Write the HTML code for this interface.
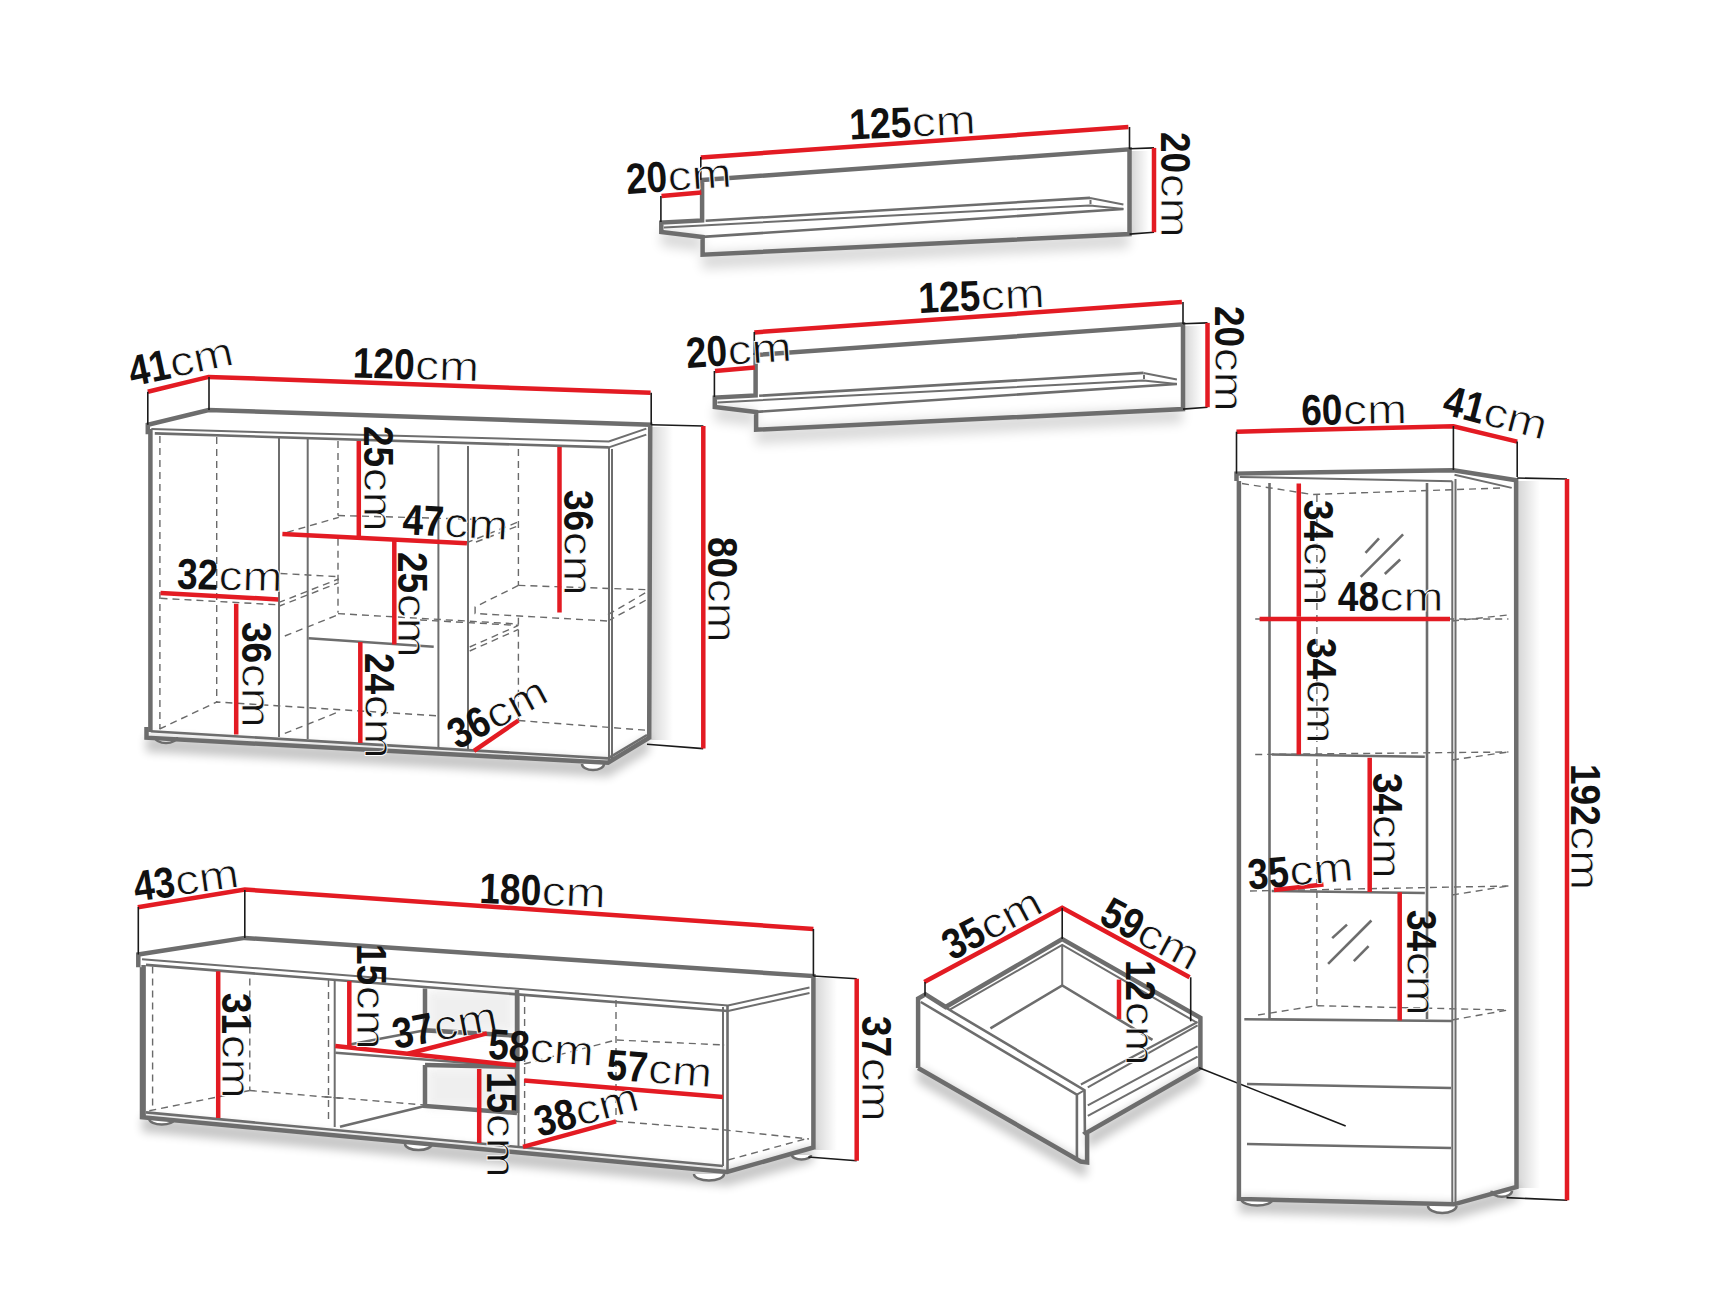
<!DOCTYPE html><html><head><meta charset="utf-8"><style>
html,body{margin:0;padding:0;background:#fff;width:1726px;height:1295px;overflow:hidden}
svg{display:block}
.g{fill:none;stroke:#6d6d6d;stroke-width:4.5;stroke-linejoin:miter}
.g3{fill:none;stroke:#6d6d6d;stroke-width:2.6}
.r{fill:none;stroke:#e31b23;stroke-width:4.5}
.k{fill:none;stroke:#1a1a1a;stroke-width:1.6}
.t{fill:none;stroke:#6e6e6e;stroke-width:2}
.t2{fill:#fff;stroke:#6d6d6d;stroke-width:2.5}
.d{fill:none;stroke:#6a6a6a;stroke-width:1.4;stroke-dasharray:7 5}
text{font-family:"Liberation Sans",sans-serif;fill:#111}
.n{font-weight:bold;font-size:43px}
.c{font-weight:normal;font-size:41.5px;stroke:#fff;stroke-width:0.8px}
</style></head><body>
<svg width="1726" height="1295" viewBox="0 0 1726 1295">
<defs>
<filter id="b3" x="-50%" y="-50%" width="200%" height="200%"><feGaussianBlur stdDeviation="3"/></filter>
<filter id="b4" x="-50%" y="-50%" width="200%" height="200%"><feGaussianBlur stdDeviation="4"/></filter>
<filter id="b5" x="-50%" y="-50%" width="200%" height="200%"><feGaussianBlur stdDeviation="5"/></filter>
<filter id="b6" x="-50%" y="-50%" width="200%" height="200%"><feGaussianBlur stdDeviation="6"/></filter>
<linearGradient id="sg" x1="0" x2="1" y1="0" y2="0"><stop offset="0" stop-color="#000" stop-opacity="0.16"/><stop offset="1" stop-color="#000" stop-opacity="0"/></linearGradient>
</defs>
<rect width="1726" height="1295" fill="#fff"/>
<polygon points="661.0,230.0 702.0,235.0 702.0,253.0 1129.0,232.0 1129.0,248.0 702.0,269.0 702.0,251.0 661.0,246.0" fill="#000" opacity="0.15" filter="url(#b6)"/>
<rect x="1131.0" y="151.0" width="18" height="82.0" fill="url(#sg)" opacity="1.00"/>
<polygon points="714.5,405.0 755.5,410.0 755.5,428.0 1182.5,407.0 1182.5,423.0 755.5,444.0 755.5,426.0 714.5,421.0" fill="#000" opacity="0.15" filter="url(#b6)"/>
<rect x="1184.5" y="326.0" width="18" height="82.0" fill="url(#sg)" opacity="1.00"/>
<polygon points="146.0,736.0 608.0,761.0 649.0,736.0 649.0,752.0 608.0,777.0 146.0,752.0" fill="#000" opacity="0.22" filter="url(#b5)"/>
<rect x="651.0" y="427.0" width="22" height="313.0" fill="url(#sg)" opacity="1.00"/>
<polygon points="142.0,1116.0 727.0,1170.0 813.0,1146.0 813.0,1162.0 727.0,1186.0 142.0,1132.0" fill="#000" opacity="0.22" filter="url(#b5)"/>
<rect x="815.0" y="978.0" width="22" height="172.0" fill="url(#sg)" opacity="1.00"/>
<polygon points="917.0,1066.0 1081.0,1160.0 1087.0,1160.0 1087.0,1133.0 1200.0,1066.0 1200.0,1082.0 1087.0,1149.0 1087.0,1176.0 1081.0,1176.0 917.0,1082.0" fill="#000" opacity="0.22" filter="url(#b5)"/>
<polygon points="1239.0,1197.0 1454.0,1203.0 1518.0,1185.0 1518.0,1201.0 1454.0,1219.0 1239.0,1213.0" fill="#000" opacity="0.22" filter="url(#b5)"/>
<rect x="1518.0" y="481.0" width="22" height="707.0" fill="url(#sg)" opacity="1.00"/>
<g transform="translate(0,0)">
<polyline class="g3" points="705.6,220.8 1090.0,197.9"/>
<polyline class="t" points="1090.0,197.9 1123.4,204.4"/>
<polyline class="t" points="1090.5,199.8 1090.5,204.0"/>
<polyline class="t" points="663.9,227.4 1090.0,205.4 1123.4,209.0"/>
<polyline class="g3" points="702.6,236.9 1123.4,209.0"/>
<polygon class="g" points="702.1,180.0 1129.5,149.3 1129.5,234.1 702.6,254.7 702.6,236.9 661.3,232.1 661.3,222.6 702.1,220.4"/>
<polyline class="r" points="700.8,157.4 1128.4,127.1"/>
<polyline class="r" points="661.5,196.1 701.3,192.6"/>
<polyline class="k" points="660.9,196.0 660.9,222.0"/>
<polyline class="k" points="700.8,157.0 700.8,180.0"/>
<polyline class="k" points="1129.5,127.0 1129.5,149.0"/>
<polyline class="k" points="1129.5,148.8 1154.0,147.9"/>
<polyline class="k" points="1129.5,234.1 1154.0,232.2"/>
<polyline class="r" points="1154.0,147.9 1154.0,232.2"/>
</g>
<g transform="translate(53.5,175)">
<polyline class="g3" points="705.6,220.8 1090.0,197.9"/>
<polyline class="t" points="1090.0,197.9 1123.4,204.4"/>
<polyline class="t" points="1090.5,199.8 1090.5,204.0"/>
<polyline class="t" points="663.9,227.4 1090.0,205.4 1123.4,209.0"/>
<polyline class="g3" points="702.6,236.9 1123.4,209.0"/>
<polygon class="g" points="702.1,180.0 1129.5,149.3 1129.5,234.1 702.6,254.7 702.6,236.9 661.3,232.1 661.3,222.6 702.1,220.4"/>
<polyline class="r" points="700.8,157.4 1128.4,127.1"/>
<polyline class="r" points="661.5,196.1 701.3,192.6"/>
<polyline class="k" points="660.9,196.0 660.9,222.0"/>
<polyline class="k" points="700.8,157.0 700.8,180.0"/>
<polyline class="k" points="1129.5,127.0 1129.5,149.0"/>
<polyline class="k" points="1129.5,148.8 1154.0,147.9"/>
<polyline class="k" points="1129.5,234.1 1154.0,232.2"/>
<polyline class="r" points="1154.0,147.9 1154.0,232.2"/>
</g>
<g transform="translate(627.0,194.0) rotate(-4.00)"><text class="n" x="0" y="0" textLength="41.2" lengthAdjust="spacingAndGlyphs">20</text><text class="c" x="41.7" y="0" textLength="64.0" lengthAdjust="spacingAndGlyphs">cm</text></g>
<g transform="translate(850.0,139.5) rotate(-2.60)"><text class="n" x="0" y="0" textLength="61.8" lengthAdjust="spacingAndGlyphs">125</text><text class="c" x="62.3" y="0" textLength="64.0" lengthAdjust="spacingAndGlyphs">cm</text></g>
<g transform="translate(1161.0,132.0) rotate(90.00)"><text class="n" x="0" y="0" textLength="41.2" lengthAdjust="spacingAndGlyphs">20</text><text class="c" x="41.7" y="0" textLength="64.0" lengthAdjust="spacingAndGlyphs">cm</text></g>
<g transform="translate(687.0,368.0) rotate(-4.00)"><text class="n" x="0" y="0" textLength="41.2" lengthAdjust="spacingAndGlyphs">20</text><text class="c" x="41.7" y="0" textLength="64.0" lengthAdjust="spacingAndGlyphs">cm</text></g>
<g transform="translate(919.0,313.0) rotate(-2.60)"><text class="n" x="0" y="0" textLength="61.8" lengthAdjust="spacingAndGlyphs">125</text><text class="c" x="62.3" y="0" textLength="64.0" lengthAdjust="spacingAndGlyphs">cm</text></g>
<g transform="translate(1214.5,306.0) rotate(90.00)"><text class="n" x="0" y="0" textLength="41.2" lengthAdjust="spacingAndGlyphs">20</text><text class="c" x="41.7" y="0" textLength="64.0" lengthAdjust="spacingAndGlyphs">cm</text></g>
<polyline class="d" points="159.9,436.0 159.9,729.0"/>
<polyline class="d" points="216.7,437.0 216.7,702.0"/>
<polyline class="d" points="159.5,729.0 216.7,702.0 440.0,716.0"/>
<polyline class="d" points="160.5,598.3 278.3,604.8"/>
<polyline class="d" points="280.5,573.5 338.8,576.7"/>
<polyline class="d" points="278.3,602.7 338.8,578.9"/>
<polyline class="d" points="278.3,606.5 338.8,582.7"/>
<polyline class="d" points="284.8,636.0 338.8,614.5"/>
<polyline class="d" points="287.0,532.4 338.8,517.3"/>
<polyline class="d" points="338.0,441.0 338.0,515.5"/>
<polyline class="d" points="338.0,538.7 338.0,612.8"/>
<polyline class="d" points="338.0,515.5 480.0,519.4"/>
<polyline class="d" points="338.0,613.6 518.0,624.0"/>
<polyline class="d" points="284.8,733.4 338.8,711.8"/>
<polyline class="d" points="518.4,449.0 518.4,585.4"/>
<polyline class="d" points="518.4,617.8 518.4,720.5"/>
<polyline class="d" points="518.4,585.4 647.0,589.7"/>
<polyline class="d" points="518.4,585.4 475.1,607.0 475.1,613.5 608.0,621.0"/>
<polyline class="d" points="608.0,614.6 647.0,591.9"/>
<polyline class="d" points="608.0,621.0 647.0,599.5"/>
<polyline class="d" points="420.0,620.0 518.4,625.4"/>
<polyline class="d" points="469.7,647.0 518.4,625.4"/>
<polyline class="d" points="469.7,651.0 518.4,629.4"/>
<polyline class="d" points="466.0,543.0 518.0,522.0"/>
<polyline class="d" points="476.0,542.0 518.0,526.0"/>
<polyline class="d" points="518.4,720.5 647.0,730.3"/>
<polyline class="t" points="279.0,437.0 279.0,737.0"/>
<polyline class="t" points="307.7,438.0 307.7,739.0"/>
<polyline class="t" points="438.4,445.0 438.4,748.0"/>
<polyline class="t" points="468.0,446.0 468.0,750.0"/>
<polyline class="t" points="609.0,447.0 609.0,761.0"/>
<polyline class="t" points="612.0,449.0 612.0,759.0"/>
<polyline class="t" points="151.3,429.1 608.8,441.5 646.3,428.6"/>
<polyline class="g3" points="154.8,433.4 608.8,447.4"/>
<polyline class="t" points="608.8,447.4 646.3,434.6"/>
<polyline class="g3" points="150.8,731.3 608.0,758.4 647.0,735.0"/>
<polyline class="g3" points="308.6,638.3 433.7,646.8"/>
<path class="t2" d="M155.0,737.0 A11.0,6.0 0 0 0 177.0,737.0"/>
<path class="t2" d="M582.0,764.0 A11.0,6.0 0 0 0 604.0,764.0"/>
<polyline class="g" points="147.8,434.3 147.8,424.7 208.6,410.0 650.2,424.7 649.2,737.8 608.0,762.7 146.5,737.7 146.5,726.9"/>
<polyline class="g" points="150.4,429.0 150.4,732.0"/>
<polyline class="r" points="147.8,391.7 208.6,376.9 650.6,392.8"/>
<polyline class="k" points="147.8,391.7 147.8,424.7"/>
<polyline class="k" points="209.0,377.0 209.0,410.0"/>
<polyline class="k" points="651.2,392.8 651.2,424.7"/>
<polyline class="k" points="651.2,424.7 703.4,426.0"/>
<polyline class="k" points="647.0,744.3 703.2,748.6"/>
<polyline class="r" points="703.3,426.0 703.3,748.6"/>
<polyline class="r" points="160.5,593.0 278.3,599.4"/>
<polyline class="r" points="236.2,603.7 236.2,734.5"/>
<polyline class="r" points="282.4,534.0 466.9,543.3"/>
<polyline class="r" points="358.8,441.0 358.8,537.0"/>
<polyline class="r" points="394.3,539.4 394.3,644.5"/>
<polyline class="r" points="360.3,642.0 360.3,743.0"/>
<polyline class="r" points="559.5,447.0 559.5,612.4"/>
<polyline class="r" points="474.0,750.8 518.4,720.5"/>
<g transform="translate(132.0,386.5) rotate(-12.00)"><text class="n" x="0" y="0" textLength="41.2" lengthAdjust="spacingAndGlyphs">41</text><text class="c" x="41.7" y="0" textLength="64.0" lengthAdjust="spacingAndGlyphs">cm</text></g>
<g transform="translate(352.5,377.5) rotate(1.60)"><text class="n" x="0" y="0" textLength="61.8" lengthAdjust="spacingAndGlyphs">120</text><text class="c" x="62.3" y="0" textLength="64.0" lengthAdjust="spacingAndGlyphs">cm</text></g>
<g transform="translate(364.0,426.0) rotate(90.00)"><text class="n" x="0" y="0" textLength="41.2" lengthAdjust="spacingAndGlyphs">25</text><text class="c" x="41.7" y="0" textLength="64.0" lengthAdjust="spacingAndGlyphs">cm</text></g>
<g transform="translate(402.0,534.0) rotate(3.30)"><text class="n" x="0" y="0" textLength="41.2" lengthAdjust="spacingAndGlyphs">47</text><text class="c" x="41.7" y="0" textLength="64.0" lengthAdjust="spacingAndGlyphs">cm</text></g>
<g transform="translate(563.5,490.0) rotate(90.00)"><text class="n" x="0" y="0" textLength="41.2" lengthAdjust="spacingAndGlyphs">36</text><text class="c" x="41.7" y="0" textLength="64.0" lengthAdjust="spacingAndGlyphs">cm</text></g>
<g transform="translate(176.7,588.6) rotate(1.50)"><text class="n" x="0" y="0" textLength="41.2" lengthAdjust="spacingAndGlyphs">32</text><text class="c" x="41.7" y="0" textLength="64.0" lengthAdjust="spacingAndGlyphs">cm</text></g>
<g transform="translate(398.3,552.0) rotate(90.00)"><text class="n" x="0" y="0" textLength="41.2" lengthAdjust="spacingAndGlyphs">25</text><text class="c" x="41.7" y="0" textLength="64.0" lengthAdjust="spacingAndGlyphs">cm</text></g>
<g transform="translate(241.6,622.0) rotate(90.00)"><text class="n" x="0" y="0" textLength="41.2" lengthAdjust="spacingAndGlyphs">36</text><text class="c" x="41.7" y="0" textLength="64.0" lengthAdjust="spacingAndGlyphs">cm</text></g>
<g transform="translate(365.0,653.0) rotate(90.00)"><text class="n" x="0" y="0" textLength="41.2" lengthAdjust="spacingAndGlyphs">24</text><text class="c" x="41.7" y="0" textLength="64.0" lengthAdjust="spacingAndGlyphs">cm</text></g>
<g transform="translate(457.5,750.0) rotate(-28.00)"><text class="n" x="0" y="0" textLength="41.2" lengthAdjust="spacingAndGlyphs">36</text><text class="c" x="41.7" y="0" textLength="64.0" lengthAdjust="spacingAndGlyphs">cm</text></g>
<g transform="translate(708.0,537.0) rotate(90.00)"><text class="n" x="0" y="0" textLength="41.2" lengthAdjust="spacingAndGlyphs">80</text><text class="c" x="41.7" y="0" textLength="64.0" lengthAdjust="spacingAndGlyphs">cm</text></g>
<rect x="427" y="990" width="88" height="42" fill="#ececec" filter="url(#b4)" opacity="0.8"/>
<rect x="427" y="1068" width="88" height="40" fill="#ececec" filter="url(#b4)" opacity="0.8"/>
<polyline class="d" points="152.6,966.5 152.6,1110.0"/>
<polyline class="d" points="249.8,978.6 249.8,1090.5"/>
<polyline class="d" points="328.5,980.0 328.5,1120.6"/>
<polyline class="d" points="149.3,1110.8 249.8,1090.5"/>
<polyline class="d" points="249.8,1090.5 345.0,1098.6"/>
<polyline class="d" points="324.6,1096.7 425.0,1105.0"/>
<polyline class="d" points="524.6,995.0 524.6,1148.0"/>
<polyline class="d" points="616.0,1000.0 616.0,1121.3"/>
<polyline class="d" points="524.0,1064.0 616.0,1040.0 725.0,1045.0"/>
<polyline class="d" points="616.0,1121.3 725.0,1130.0 809.0,1139.0"/>
<polyline class="t" points="334.7,980.0 334.7,1127.0"/>
<polyline class="t" points="518.5,995.0 518.5,1147.0"/>
<polyline class="t" points="142.0,959.2 728.0,1005.4 809.5,987.6"/>
<polyline class="g3" points="146.0,964.9 728.0,1011.0"/>
<polyline class="t" points="728.0,1011.0 809.5,993.0"/>
<polyline class="g3" points="146.0,1112.4 723.0,1166.0"/>
<polyline class="d" points="728.0,1160.0 809.0,1138.0"/>
<polyline class="g3" points="727.5,1005.0 727.5,1172.0"/>
<polyline class="t" points="723.0,1007.0 723.0,1166.0"/>
<polyline class="g3" points="335.4,1052.7 517.7,1066.6"/>
<polyline class="g3" points="350.9,1044.2 425.0,1030.3"/>
<polyline class="g3" points="340.0,1126.8 425.0,1106.0"/>
<polyline class="g" points="425.0,988.6 425.0,1030.3 517.0,1035.7"/>
<polyline class="g" points="517.0,990.0 517.0,1113.0"/>
<polyline class="g" points="425.0,1065.0 425.0,1106.0 517.0,1113.0"/>
<polyline class="g" points="425.0,1065.0 517.0,1067.0"/>
<path class="t2" d="M149.3,1118.9 A12.5,5.6 0 0 0 174.4,1118.9"/>
<path class="t2" d="M405.0,1144.0 A13.5,6.0 0 0 0 432.0,1144.0"/>
<path class="t2" d="M694.0,1174.0 A15.0,6.5 0 0 0 724.0,1174.0"/>
<path class="t2" d="M792.0,1155.0 A9.5,4.5 0 0 0 811.0,1155.0"/>
<polyline class="g" points="138.3,967.3 138.3,954.5 244.8,937.9 813.4,976.1 813.4,1147.5 727.0,1172.0 142.0,1117.3 142.0,967.3"/>
<polyline class="g" points="143.6,965.0 143.6,1116.4"/>
<polyline class="r" points="137.8,907.3 244.8,889.5 813.4,929.0"/>
<polyline class="k" points="138.3,907.0 138.3,954.5"/>
<polyline class="k" points="244.8,890.0 244.8,938.0"/>
<polyline class="k" points="813.4,929.0 813.4,976.0"/>
<polyline class="k" points="813.4,976.0 856.7,978.7"/>
<polyline class="k" points="808.3,1157.0 856.7,1160.8"/>
<polyline class="r" points="856.7,978.7 856.7,1160.8"/>
<polyline class="r" points="218.2,971.3 218.2,1118.0"/>
<polyline class="r" points="349.3,981.0 349.3,1046.0"/>
<polyline class="r" points="335.3,1046.0 516.0,1065.3"/>
<polyline class="r" points="407.9,1053.8 486.9,1033.4"/>
<polyline class="r" points="479.2,1069.0 479.2,1143.0"/>
<polyline class="r" points="524.2,1080.6 723.0,1097.0"/>
<polyline class="r" points="523.0,1146.8 616.0,1121.3"/>
<g transform="translate(135.8,901.5) rotate(-8.00)"><text class="n" x="0" y="0" textLength="41.2" lengthAdjust="spacingAndGlyphs">43</text><text class="c" x="41.7" y="0" textLength="64.0" lengthAdjust="spacingAndGlyphs">cm</text></g>
<g transform="translate(479.0,903.0) rotate(2.00)"><text class="n" x="0" y="0" textLength="61.8" lengthAdjust="spacingAndGlyphs">180</text><text class="c" x="62.3" y="0" textLength="64.0" lengthAdjust="spacingAndGlyphs">cm</text></g>
<g transform="translate(357.0,944.0) rotate(90.00)"><text class="n" x="0" y="0" textLength="41.2" lengthAdjust="spacingAndGlyphs">15</text><text class="c" x="41.7" y="0" textLength="64.0" lengthAdjust="spacingAndGlyphs">cm</text></g>
<g transform="translate(222.0,993.0) rotate(90.00)"><text class="n" x="0" y="0" textLength="41.2" lengthAdjust="spacingAndGlyphs">31</text><text class="c" x="41.7" y="0" textLength="64.0" lengthAdjust="spacingAndGlyphs">cm</text></g>
<g transform="translate(395.5,1049.0) rotate(-10.80)"><text class="n" x="0" y="0" textLength="41.2" lengthAdjust="spacingAndGlyphs">37</text><text class="c" x="41.7" y="0" textLength="64.0" lengthAdjust="spacingAndGlyphs">cm</text></g>
<g transform="translate(487.5,1058.5) rotate(4.00)"><text class="n" x="0" y="0" textLength="41.2" lengthAdjust="spacingAndGlyphs">58</text><text class="c" x="41.7" y="0" textLength="64.0" lengthAdjust="spacingAndGlyphs">cm</text></g>
<g transform="translate(605.7,1079.3) rotate(4.30)"><text class="n" x="0" y="0" textLength="41.2" lengthAdjust="spacingAndGlyphs">57</text><text class="c" x="41.7" y="0" textLength="64.0" lengthAdjust="spacingAndGlyphs">cm</text></g>
<g transform="translate(487.0,1072.0) rotate(90.00)"><text class="n" x="0" y="0" textLength="41.2" lengthAdjust="spacingAndGlyphs">15</text><text class="c" x="41.7" y="0" textLength="64.0" lengthAdjust="spacingAndGlyphs">cm</text></g>
<g transform="translate(539.0,1137.0) rotate(-15.00)"><text class="n" x="0" y="0" textLength="41.2" lengthAdjust="spacingAndGlyphs">38</text><text class="c" x="41.7" y="0" textLength="64.0" lengthAdjust="spacingAndGlyphs">cm</text></g>
<g transform="translate(862.0,1016.0) rotate(90.00)"><text class="n" x="0" y="0" textLength="41.2" lengthAdjust="spacingAndGlyphs">37</text><text class="c" x="41.7" y="0" textLength="64.0" lengthAdjust="spacingAndGlyphs">cm</text></g>
<polyline class="g3" points="990.4,1028.3 1062.2,985.4 1152.5,1039.9"/>
<polyline class="t" points="1062.2,945.0 1062.2,985.4"/>
<polyline class="t" points="949.8,1009.7 1062.2,944.9 1196.6,1022.5"/>
<polyline class="t" points="1080.9,1084.5 1197.6,1022.0"/>
<polyline class="t" points="1087.8,1087.3 1197.6,1025.4"/>
<polyline class="t" points="1087.8,1105.4 1197.6,1046.3"/>
<polyline class="t" points="1087.8,1115.8 1197.6,1056.7"/>
<polyline class="g3" points="945.6,1007.5 1084.5,1090.2 1084.9,1134.0"/>
<polyline class="g3" points="920.8,1002.0 1076.9,1094.7 1076.9,1160.0"/>
<polyline class="t" points="1076.9,1094.7 1084.0,1090.5"/>
<polyline class="g" points="918.1,1068.0 918.1,998.5 925.5,994.3 945.6,1007.0 1062.2,939.1 1200.4,1017.8 1200.4,1067.8 1085.7,1133.2 1087.1,1134.6 1087.1,1162.4 1080.7,1161.5 918.1,1068.0"/>
<polyline class="k" points="1199.0,1067.8 1345.7,1126.0"/>
<polyline class="r" points="924.3,982.0 1062.2,907.8 1189.6,977.3"/>
<polyline class="k" points="925.0,982.0 925.0,995.8"/>
<polyline class="k" points="1062.2,907.8 1062.2,939.0"/>
<polyline class="k" points="1190.7,977.3 1190.7,1021.3"/>
<polyline class="r" points="1119.0,979.6 1119.0,1019.0"/>
<g transform="translate(952.0,961.0) rotate(-28.00)"><text class="n" x="0" y="0" textLength="41.2" lengthAdjust="spacingAndGlyphs">35</text><text class="c" x="41.7" y="0" textLength="64.0" lengthAdjust="spacingAndGlyphs">cm</text></g>
<g transform="translate(1097.5,922.0) rotate(28.00)"><text class="n" x="0" y="0" textLength="41.2" lengthAdjust="spacingAndGlyphs">59</text><text class="c" x="41.7" y="0" textLength="64.0" lengthAdjust="spacingAndGlyphs">cm</text></g>
<g transform="translate(1126.0,960.0) rotate(90.00)"><text class="n" x="0" y="0" textLength="41.2" lengthAdjust="spacingAndGlyphs">12</text><text class="c" x="41.7" y="0" textLength="64.0" lengthAdjust="spacingAndGlyphs">cm</text></g>
<polyline class="d" points="1242.0,483.5 1312.5,494.5 1504.0,487.9"/>
<polyline class="d" points="1316.9,495.0 1316.9,1005.7"/>
<polyline class="d" points="1255.2,619.0 1508.4,619.0"/>
<polyline class="d" points="1452.0,621.0 1508.0,615.0"/>
<polyline class="d" points="1255.2,754.5 1508.4,752.0"/>
<polyline class="d" points="1452.0,760.0 1508.0,752.0"/>
<polyline class="d" points="1250.0,891.0 1508.4,886.0"/>
<polyline class="d" points="1452.0,895.0 1508.0,886.0"/>
<polyline class="d" points="1258.0,1015.0 1316.9,1005.7 1508.0,1010.0"/>
<polyline class="d" points="1452.0,1020.0 1508.0,1010.0"/>
<polyline class="g3" points="1269.5,483.0 1269.5,1019.0"/>
<polyline class="g3" points="1427.0,483.0 1427.0,1019.0"/>
<polyline class="t" points="1452.3,481.3 1452.3,1204.0"/>
<polyline class="t" points="1455.5,479.0 1455.5,1202.0"/>
<polyline class="t" points="1239.8,476.9 1452.3,481.3"/>
<polyline class="t" points="1454.5,474.7 1511.7,487.9"/>
<polyline class="g3" points="1271.7,754.5 1424.8,756.7"/>
<polyline class="g3" points="1271.7,891.0 1424.8,893.0"/>
<polyline class="g3" points="1244.3,1019.2 1452.4,1021.0"/>
<polyline class="g3" points="1247.0,1084.0 1451.0,1088.0"/>
<polyline class="g3" points="1247.0,1144.0 1451.0,1148.0"/>
<polyline class="g3" points="1365.5,552.8 1379.0,538.3"/>
<polyline class="g3" points="1360.7,576.9 1403.1,534.4"/>
<polyline class="g3" points="1384.8,574.0 1400.2,559.5"/>
<polyline class="g3" points="1332.2,938.1 1347.0,924.6"/>
<polyline class="g3" points="1328.1,963.8 1371.4,920.5"/>
<polyline class="g3" points="1353.8,961.1 1368.6,946.2"/>
<path class="t2" d="M1241.6,1200.0 A15.6,6.0 0 0 0 1272.7,1200.0"/>
<path class="t2" d="M1428.0,1206.0 A14.2,7.0 0 0 0 1456.5,1206.0"/>
<path class="t2" d="M1491.6,1190.8 A10.2,6.0 0 0 0 1512.0,1190.8"/>
<polyline class="g" points="1236.5,481.0 1236.5,473.6 1453.4,470.3 1516.1,480.2 1516.5,1187.0 1453.8,1204.3 1238.9,1198.9 1238.9,481.0"/>
<polyline class="r" points="1236.5,431.7 1453.4,426.2 1517.2,441.6"/>
<polyline class="k" points="1236.5,431.7 1236.5,473.6"/>
<polyline class="k" points="1453.4,426.0 1453.4,470.0"/>
<polyline class="k" points="1517.2,441.6 1517.2,477.0"/>
<polyline class="k" points="1517.2,478.0 1567.0,479.0"/>
<polyline class="k" points="1506.5,1197.6 1567.3,1200.3"/>
<polyline class="r" points="1567.0,479.0 1567.0,1200.3"/>
<polyline class="r" points="1298.8,483.5 1298.8,616.7"/>
<polyline class="r" points="1298.8,621.0 1298.8,754.5"/>
<polyline class="r" points="1369.7,757.8 1369.7,892.1"/>
<polyline class="r" points="1399.7,892.2 1399.7,1020.5"/>
<polyline class="r" points="1274.0,889.9 1323.5,884.4"/>
<polyline class="r" points="1259.6,618.9 1450.0,618.9"/>
<g transform="translate(1301.5,425.1) rotate(-1.00)"><text class="n" x="0" y="0" textLength="41.2" lengthAdjust="spacingAndGlyphs">60</text><text class="c" x="41.7" y="0" textLength="64.0" lengthAdjust="spacingAndGlyphs">cm</text></g>
<g transform="translate(1441.0,413.5) rotate(14.50)"><text class="n" x="0" y="0" textLength="41.2" lengthAdjust="spacingAndGlyphs">41</text><text class="c" x="41.7" y="0" textLength="64.0" lengthAdjust="spacingAndGlyphs">cm</text></g>
<g transform="translate(1304.0,500.0) rotate(90.00)"><text class="n" x="0" y="0" textLength="41.2" lengthAdjust="spacingAndGlyphs">34</text><text class="c" x="41.7" y="0" textLength="64.0" lengthAdjust="spacingAndGlyphs">cm</text></g>
<g transform="translate(1337.8,611.2) rotate(0.00)"><text class="n" x="0" y="0" textLength="41.2" lengthAdjust="spacingAndGlyphs">48</text><text class="c" x="41.7" y="0" textLength="64.0" lengthAdjust="spacingAndGlyphs">cm</text></g>
<g transform="translate(1307.0,638.0) rotate(90.00)"><text class="n" x="0" y="0" textLength="41.2" lengthAdjust="spacingAndGlyphs">34</text><text class="c" x="41.7" y="0" textLength="64.0" lengthAdjust="spacingAndGlyphs">cm</text></g>
<g transform="translate(1373.0,773.0) rotate(90.00)"><text class="n" x="0" y="0" textLength="41.2" lengthAdjust="spacingAndGlyphs">34</text><text class="c" x="41.7" y="0" textLength="64.0" lengthAdjust="spacingAndGlyphs">cm</text></g>
<g transform="translate(1249.0,889.5) rotate(-5.00)"><text class="n" x="0" y="0" textLength="41.2" lengthAdjust="spacingAndGlyphs">35</text><text class="c" x="41.7" y="0" textLength="64.0" lengthAdjust="spacingAndGlyphs">cm</text></g>
<g transform="translate(1571.0,764.0) rotate(90.00)"><text class="n" x="0" y="0" textLength="61.8" lengthAdjust="spacingAndGlyphs">192</text><text class="c" x="62.3" y="0" textLength="64.0" lengthAdjust="spacingAndGlyphs">cm</text></g>
<g transform="translate(1406.5,910.0) rotate(90.00)"><text class="n" x="0" y="0" textLength="41.2" lengthAdjust="spacingAndGlyphs">34</text><text class="c" x="41.7" y="0" textLength="64.0" lengthAdjust="spacingAndGlyphs">cm</text></g>
</svg></body></html>
